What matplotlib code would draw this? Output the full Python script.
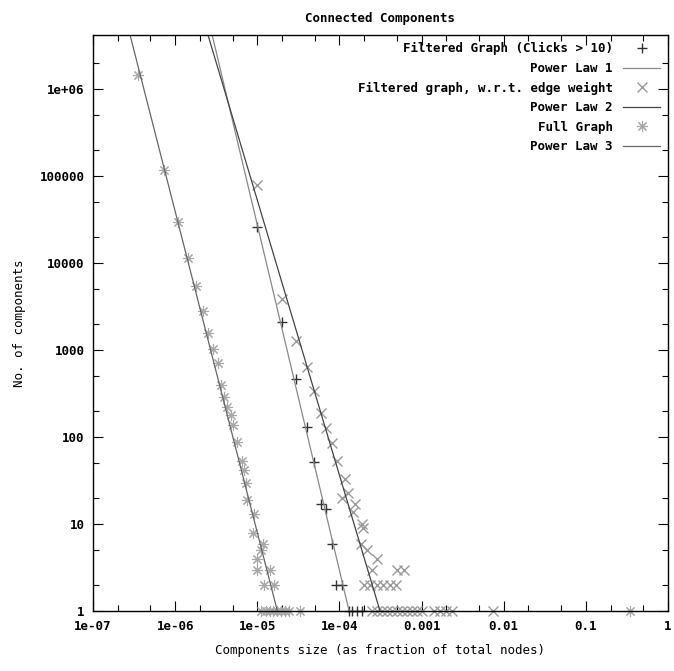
# Connected components size distribution on log-log axes, gnuplot look

import numpy as np
import matplotlib
matplotlib.use('Agg')
import matplotlib.pyplot as plt

plt.rcParams['font.family'] = 'DejaVu Sans Mono'
plt.rcParams['font.weight'] = 'bold'
plt.rcParams['font.size'] = 9

# Filtered Graph (Clicks > 10)
clicks_x = [1.0e-5, 2.02e-5, 2.99e-5, 4.07e-5, 4.95e-5, 6.0e-5, 6.9e-5, 8.2e-5,
            9.1e-5, 1.08e-4, 1.31e-4, 1.43e-4, 1.64e-4, 1.89e-4]
clicks_y = [25900, 2100, 464, 130, 52, 17, 15, 6, 2, 2, 1, 1, 1, 1]

# Filtered graph, w.r.t. edge weight
weight_x = [9.8e-6, 2.02e-5, 2.99e-5, 4.07e-5, 4.95e-5, 6.0e-5, 6.9e-5, 8.2e-5,
            9.4e-5, 1.17e-4, 1.28e-4, 1.08e-4, 1.56e-4, 1.47e-4, 1.89e-4, 1.94e-4,
            1.84e-4, 2.17e-4, 2.88e-4, 2.5e-4, 5.0e-4, 6.1e-4,
            2.0e-4, 2.37e-4, 2.88e-4, 3.4e-4, 4.14e-4, 4.89e-4,
            2.5e-4, 2.88e-4, 3.3e-4, 3.8e-4, 4.37e-4, 5.0e-4, 5.8e-4, 6.65e-4,
            7.6e-4, 8.8e-4, 1.01e-3, 1.41e-3, 1.67e-3, 1.98e-3, 2.34e-3, 7.4e-3]
weight_y = [79000, 3860, 1270, 638, 338, 189, 127, 85,
            53, 33, 23, 20, 17, 14, 10, 9,
            6, 5, 4, 3, 3, 3,
            2, 2, 2, 2, 2, 2,
            1, 1, 1, 1, 1, 1, 1, 1,
            1, 1, 1, 1, 1, 1, 1, 1]

# Full Graph
full_x = [3.5e-7, 7.3e-7, 1.08e-6, 1.42e-6, 1.78e-6, 2.16e-6, 2.49e-6, 2.86e-6,
          3.29e-6, 3.57e-6, 3.89e-6, 4.23e-6, 4.73e-6, 5.0e-6, 5.6e-6, 6.43e-6,
          6.8e-6, 7.19e-6, 7.6e-6, 9.0e-6, 8.75e-6, 1.19e-5, 1.12e-5, 1.0e-5,
          1.41e-5, 9.8e-6, 1.22e-5, 1.62e-5,
          1.12e-5, 1.26e-5, 1.41e-5, 1.57e-5, 1.76e-5, 1.97e-5, 2.2e-5, 2.46e-5,
          3.34e-5, 0.347]
full_y = [1450000, 117000, 29600, 11400, 5440, 2810, 1570, 1030,
          709, 396, 288, 221, 179, 137, 88, 54,
          42, 30, 19, 13, 8, 6, 5, 4,
          3, 3, 2, 2,
          1, 1, 1, 1, 1, 1, 1, 1,
          1, 1]

# Power law fits:  y = (x / x0) ** b
law_x0 = [1.315e-4, 3.13e-4, 1.76e-5]
law_b = [-3.97, -3.16, -3.69]

xticks = [1e-7, 1e-6, 1e-5, 1e-4, 1e-3, 1e-2, 1e-1, 1]
xlabels = ['1e-07', '1e-06', '1e-05', '1e-04', '0.001', '0.01', '0.1', '1']
yticks = [1, 10, 100, 1000, 10000, 100000, 1e6]
ylabels = ['1', '10', '100', '1000', '10000', '100000', '1e+06']

fig = plt.figure(figsize=(6.74, 6.71), dpi=100)
ax = fig.add_axes([0.138, 0.089, 0.853, 0.859])

xs = np.logspace(-7, 0, 400)

ax.plot(clicks_x, clicks_y, ls='none', marker='+', color='#333333', ms=7, mew=1.0,
        clip_on=False, label='Filtered Graph (Clicks > 10)')
ax.plot(xs, (xs / law_x0[0]) ** law_b[0], color='#888888', lw=0.9, label='Power Law 1')
ax.plot(weight_x, weight_y, ls='none', marker='x', color='#9a9a9a', ms=7, mew=1.0,
        clip_on=False, label='Filtered graph, w.r.t. edge weight')
ax.plot(xs, (xs / law_x0[1]) ** law_b[1], color='#444444', lw=0.9, label='Power Law 2')
ax.plot(full_x, full_y, ls='none', marker=(8, 2, 0), color='#a8a8a8', ms=8, mew=0.8,
        clip_on=False, label='Full Graph')
ax.plot(xs, (xs / law_x0[2]) ** law_b[2], color='#666666', lw=0.9, label='Power Law 3')

ax.set_xscale('log')
ax.set_yscale('log')
ax.set_xlim(1e-7, 1)
ax.set_ylim(1, 4.2e6)

ax.set_xticks(xticks)
ax.set_xticklabels(xlabels)
ax.set_yticks(yticks)
ax.set_yticklabels(ylabels)

# minor ticks at 2 and 5 of each decade
ax.xaxis.set_minor_locator(matplotlib.ticker.LogLocator(base=10, subs=(2, 5), numticks=20))
ax.yaxis.set_minor_locator(matplotlib.ticker.LogLocator(base=10, subs=(2, 5), numticks=20))
ax.xaxis.set_minor_formatter(matplotlib.ticker.NullFormatter())
ax.yaxis.set_minor_formatter(matplotlib.ticker.NullFormatter())
ax.tick_params(which='both', direction='in', top=True, right=True, width=0.8)
ax.tick_params(which='major', length=7, pad=6)
ax.tick_params(which='minor', length=4)

for s in ax.spines.values():
    s.set_linewidth(1.0)

ax.set_title('Connected Components', fontsize=9, fontweight='bold', pad=9)
ax.set_xlabel('Components size (as fraction of total nodes)', labelpad=8)
ax.set_ylabel('No. of components', labelpad=10)

# gnuplot style key: text first, rows right aligned
leg = ax.legend(loc='upper right', frameon=False, markerfirst=False,
                handlelength=3.0, handletextpad=0.8, labelspacing=0.52,
                borderaxespad=0.2, fontsize=9)
for col in leg._legend_handle_box.get_children():
    col.align = 'right'

fig.savefig('out.png', dpi=100)
